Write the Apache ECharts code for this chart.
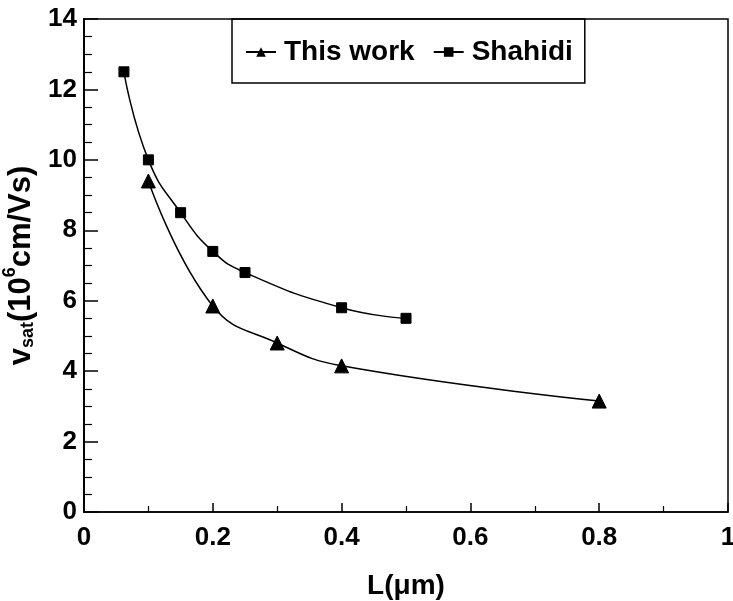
<!DOCTYPE html>
<html>
<head>
<meta charset="utf-8">
<script src="https://cdn.jsdelivr.net/npm/echarts@6/dist/echarts.min.js"></script>
<style>
html,body{margin:0;padding:0;background:#fff;}
#c{width:733px;height:601px;}
</style>
</head>
<body>
<div id="c"></div>
<script>
const thisWorkL = [0.1, 0.2, 0.3, 0.4, 0.8];
const thisWorkV = [9.4, 5.85, 4.8, 4.15, 3.15];
const shahidiL = [0.062, 0.1, 0.15, 0.2, 0.25, 0.4, 0.5];
const shahidiV = [12.5, 10.0, 8.5, 7.4, 6.8, 5.8, 5.5];
const xTicks = [0, 0.2, 0.4, 0.6, 0.8, 1];
const yTicks = [0, 2, 4, 6, 8, 10, 12, 14];

const FONT = '"Liberation Sans", Arial, sans-serif';
const chart = echarts.init(document.getElementById('c'), null, {renderer: 'canvas'});
const pair = (xs, ys) => xs.map((x, i) => [x, ys[i]]);

chart.setOption({
  animation: false,
  backgroundColor: '#fff',
  grid: {left: 84, top: 19, right: 5, bottom: 89, containLabel: false, outerBoundsMode: 'none',
         show: true, borderColor: '#000', borderWidth: 1.5, backgroundColor: 'transparent'},
  legend: {
    left: 232, top: 19,
    padding: [19, 12, 17, 13],
    borderColor: '#000', borderWidth: 1.5,
    itemWidth: 30, itemHeight: 12, itemGap: 18,
    textStyle: {fontFamily: FONT, fontWeight: 'bold', fontSize: 28, color: '#000', padding: [0, 0, 0, 3]},
    data: ['This work', 'Shahidi']
  },
  xAxis: {
    type: 'value', min: 0, max: 1, interval: 0.2,
    axisLine: {lineStyle: {color: '#000', width: 1.5}},
    axisTick: {inside: true, length: 9, lineStyle: {color: '#000', width: 1.5}},
    minorTick: {show: true, splitNumber: 2, length: 6, lineStyle: {color: '#000', width: 1.2}},
    splitLine: {show: false},
    axisLabel: {
      margin: 13, color: '#000', fontFamily: FONT, fontWeight: 'bold', fontSize: 26,
      formatter: v => { const s = xTicks.find(t => Math.abs(t - v) < 1e-9); return s === undefined ? '' : String(s); }
    },
    name: 'L(\u03bcm)', nameLocation: 'middle', nameGap: 60,
    nameTextStyle: {color: '#000', fontFamily: FONT, fontWeight: 'bold', fontSize: 28}
  },
  yAxis: {
    type: 'value', min: 0, max: 14, interval: 2,
    axisLine: {lineStyle: {color: '#000', width: 2}},
    axisTick: {inside: true, length: 14, lineStyle: {color: '#000', width: 1.5}},
    minorTick: {show: true, splitNumber: 4, length: 8, lineStyle: {color: '#000', width: 1.2}},
    splitLine: {show: false},
    axisLabel: {
      margin: 7, color: '#000', fontFamily: FONT, fontWeight: 'bold', fontSize: 26,
      formatter: v => { const s = yTicks.find(t => Math.abs(t - v) < 1e-9); return s === undefined ? '' : String(s); }
    },
    name: '{m|v}{sub|sat}{m|(10}{sup|6}{m|cm/Vs)}',
    nameLocation: 'middle', nameGap: 46, nameRotate: 90,
    nameTextStyle: {
      color: '#000', fontFamily: FONT, fontWeight: 'bold', fontSize: 31,
      rich: {
        m: {fontFamily: FONT, fontWeight: 'bold', fontSize: 31, color: '#000', verticalAlign: 'bottom', lineHeight: 36},
        sub: {fontFamily: FONT, fontWeight: 'bold', fontSize: 18, color: '#000', verticalAlign: 'bottom', lineHeight: 26},
        sup: {fontFamily: FONT, fontWeight: 'bold', fontSize: 18, color: '#000', verticalAlign: 'top', lineHeight: 36}
      }
    }
  },
  series: [
    {
      name: 'This work', type: 'line', data: pair(thisWorkL, thisWorkV),
      smooth: 0.45, symbol: 'triangle', symbolSize: 14,
      lineStyle: {color: '#000', width: 1.5}, itemStyle: {color: '#000', borderColor: '#000'}
    },
    {
      name: 'Shahidi', type: 'line', data: pair(shahidiL, shahidiV),
      smooth: 0.5, symbol: 'rect', symbolSize: 10,
      lineStyle: {color: '#000', width: 1.5}, itemStyle: {color: '#000', borderColor: '#000'}
    }
  ]
});
</script>
</body>
</html>
